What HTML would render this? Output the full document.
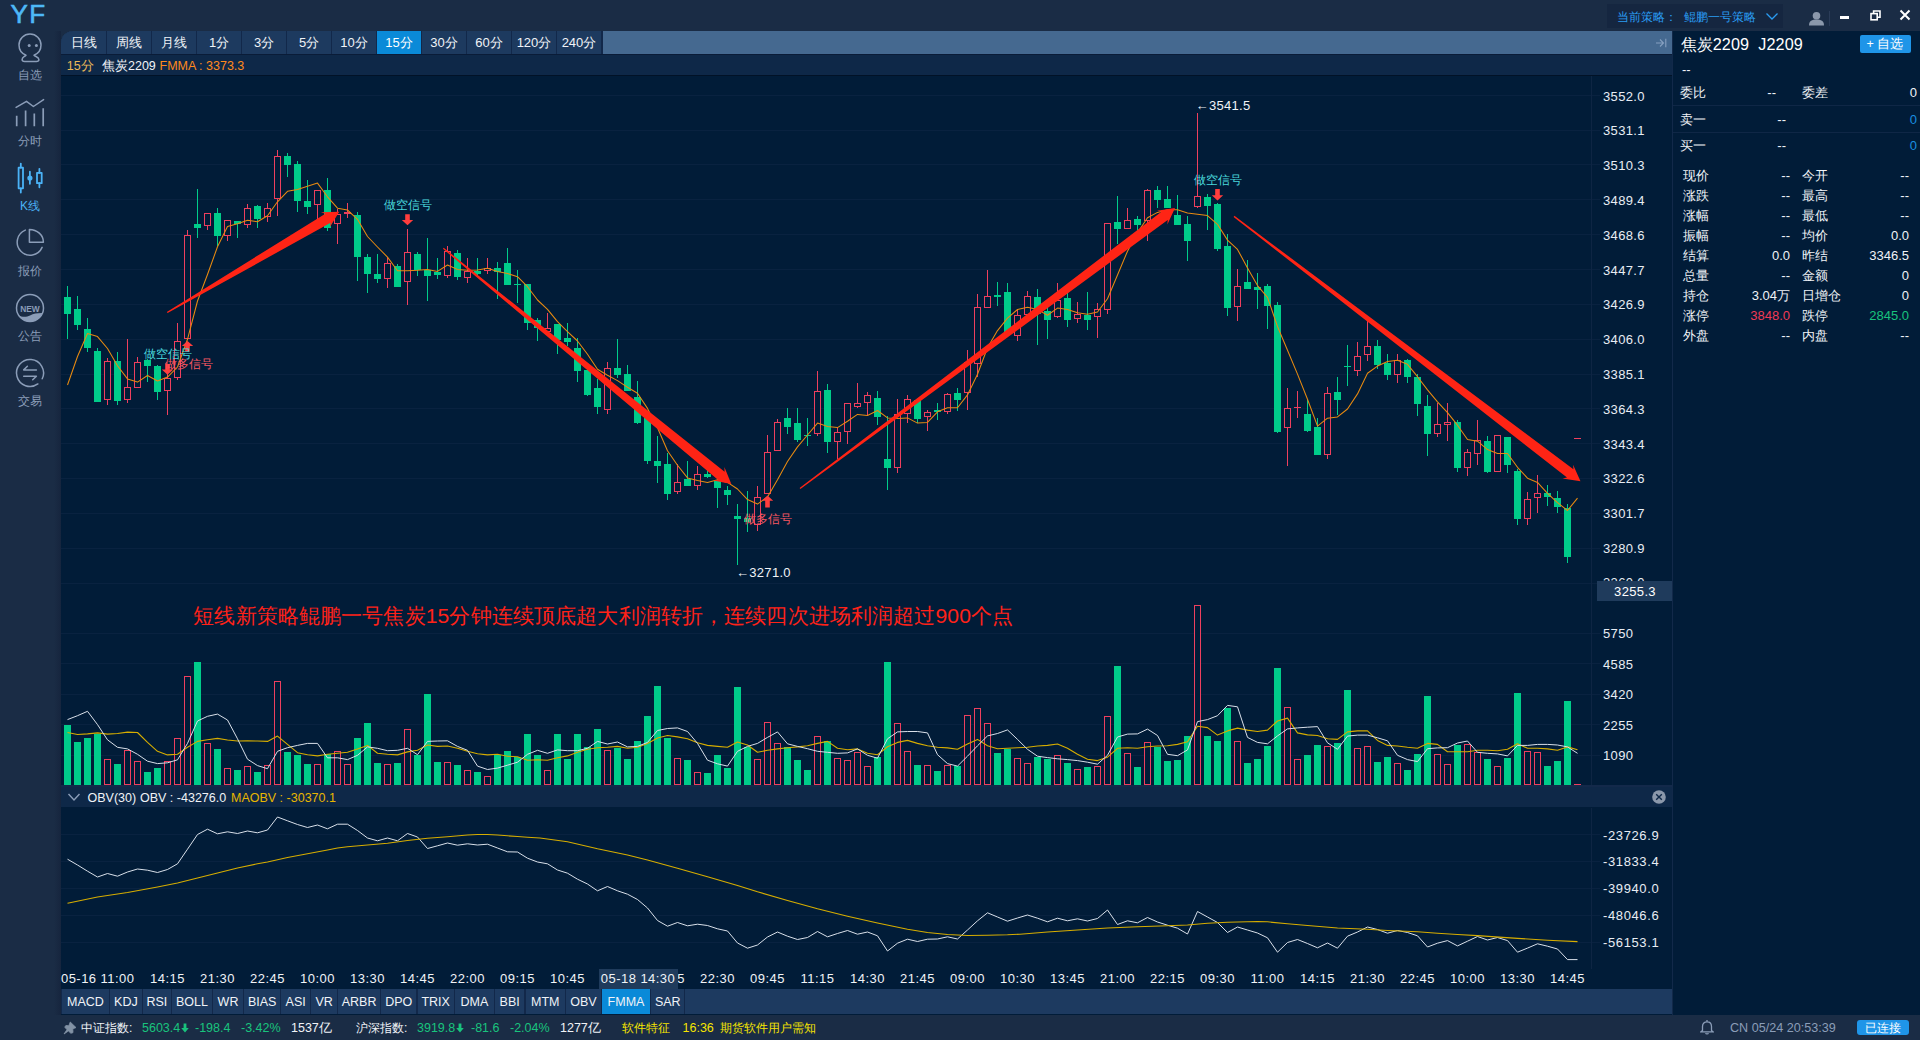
<!DOCTYPE html>
<html lang="zh"><head><meta charset="utf-8"><title>YF</title>
<style>
html,body{margin:0;padding:0}
body{width:1920px;height:1040px;overflow:hidden;background:#1a2c45;position:relative;font-family:"Liberation Sans",sans-serif;color:#fff}
.t{position:absolute;white-space:nowrap;font-family:"Liberation Sans",sans-serif}
.abs{position:absolute}
.tab{float:left;width:44px;height:23px;margin-right:1px;background:#1d3a5f;color:#f0f3f7;font-size:13px;line-height:23px;text-align:center}
.tab.on{background:#0a8ad8;color:#fff}
.btab{position:absolute;top:0;height:24px;padding-top:1px;line-height:24px;color:#f0f3f7;font-size:12.5px;text-align:center}
.q{font-size:13px;line-height:18px;color:#f0f3f7}
</style></head><body>
<!-- chart bg -->
<div class="abs" style="left:61px;top:31px;width:1611px;height:984px;background:#011c38;border-top-left-radius:12px"></div>
<div class="abs" style="left:1672px;top:31px;width:248px;height:984px;background:#011c38;border-left:1px solid #12294a;box-sizing:border-box"></div>
<div class="abs" style="left:54px;top:31px;width:7px;height:984px;background:linear-gradient(90deg,#1a2c45,#16253e)"></div>
<!-- top tabs -->
<div class="abs" style="left:61px;top:31px;width:1611px;height:23px;background:#456990;border-top-left-radius:12px;overflow:hidden"><div style="position:absolute;left:0;top:0;width:542px;height:23px;background:#12284a"></div><div style="position:absolute;left:0;top:0;width:600px"><div class="tab" style="border-top-left-radius:12px;width:45px">日线</div><div class="tab">周线</div><div class="tab">月线</div><div class="tab">1分</div><div class="tab">3分</div><div class="tab">5分</div><div class="tab">10分</div><div class="tab on">15分</div><div class="tab">30分</div><div class="tab">60分</div><div class="tab">120分</div><div class="tab">240分</div></div>
<svg style="position:absolute;left:1593.5px;top:6px" width="12" height="12" viewBox="0 0 12 12" fill="none" stroke="#86a0c0" stroke-width="1.1"><path d="M1,6 H8 M5,2.5 L8.5,6 L5,9.5 M10.8,1.8 V10.2"/></svg></div>
<div class="abs" style="left:61px;top:54px;width:1611px;height:21px;background:#0e2848;border-top:1px solid #0a1c38;box-sizing:border-box"></div>
<div class="abs" style="left:61px;top:75px;width:1611px;height:1px;background:#011227"></div>
<div class="t" style="left:66.7px;top:57.5px;font-size:12.5px;line-height:16px;color:#eab858">15分</div>
<div class="t" style="left:102px;top:57.5px;font-size:12.5px;line-height:16px;color:#f0f3f7">焦炭2209</div>
<div class="t" style="left:159.5px;top:57.5px;font-size:12.5px;line-height:16px;color:#ff8a1c">FMMA : 3373.3</div>
<!-- obv header -->
<div class="abs" style="left:61px;top:785px;width:1611px;height:2px;background:#13294a"></div>
<div class="abs" style="left:61px;top:787px;width:1611px;height:20px;background:#0e2848"></div>
<svg class="abs" style="left:67px;top:792px" width="14" height="10" viewBox="0 0 14 10" fill="none" stroke="#8b9db8" stroke-width="1.4"><path d="M1.5,2 L7,8 L12.5,2"/></svg>
<div class="t" style="left:87.5px;top:789.5px;font-size:12.5px;line-height:16px;color:#f0f3f7">OBV(30)</div>
<div class="t" style="left:140px;top:789.5px;font-size:12.5px;line-height:16px;color:#f0f3f7">OBV : -43276.0</div>
<div class="t" style="left:231px;top:789.5px;font-size:12.5px;line-height:16px;color:#e8b600">MAOBV : -30370.1</div>
<svg class="abs" style="left:1651px;top:789px" width="16" height="16" viewBox="0 0 16 16"><circle cx="8" cy="8" r="6.8" fill="#8b98ab"/><path d="M5.2,5.2 L10.8,10.8 M10.8,5.2 L5.2,10.8" stroke="#0e2848" stroke-width="1.4"/></svg>
<!-- cursor time label bg drawn after texts -->
<svg width="1920" height="1040" viewBox="0 0 1920 1040" style="position:absolute;left:0;top:0"><g shape-rendering="crispEdges"><rect x="61" y="95" width="1539" height="1" fill="#092240"/><rect x="61" y="130" width="1539" height="1" fill="#092240"/><rect x="61" y="164" width="1539" height="1" fill="#092240"/><rect x="61" y="199" width="1539" height="1" fill="#092240"/><rect x="61" y="234" width="1539" height="1" fill="#092240"/><rect x="61" y="269" width="1539" height="1" fill="#092240"/><rect x="61" y="304" width="1539" height="1" fill="#092240"/><rect x="61" y="339" width="1539" height="1" fill="#092240"/><rect x="61" y="374" width="1539" height="1" fill="#092240"/><rect x="61" y="408" width="1539" height="1" fill="#092240"/><rect x="61" y="443" width="1539" height="1" fill="#092240"/><rect x="61" y="478" width="1539" height="1" fill="#092240"/><rect x="61" y="513" width="1539" height="1" fill="#092240"/><rect x="61" y="548" width="1539" height="1" fill="#092240"/><rect x="61" y="583" width="1539" height="1" fill="#092240"/><rect x="61" y="633" width="1539" height="1" fill="#092240"/><rect x="61" y="663" width="1539" height="1" fill="#092240"/><rect x="61" y="694" width="1539" height="1" fill="#092240"/><rect x="61" y="724" width="1539" height="1" fill="#092240"/><rect x="61" y="755" width="1539" height="1" fill="#092240"/><rect x="61" y="834" width="1539" height="1" fill="#092240"/><rect x="61" y="861" width="1539" height="1" fill="#092240"/><rect x="61" y="888" width="1539" height="1" fill="#092240"/><rect x="61" y="915" width="1539" height="1" fill="#092240"/><rect x="61" y="942" width="1539" height="1" fill="#092240"/><rect x="1591" y="76" width="1" height="709" fill="#0e2543"/><rect x="1591" y="808" width="1" height="161" fill="#0e2543"/><rect x="67" y="286" width="1" height="53" fill="#00cc8a"/><rect x="64" y="297" width="7" height="17" fill="#00cc8a"/><rect x="77" y="296" width="1" height="34" fill="#00cc8a"/><rect x="74" y="309" width="7" height="16" fill="#00cc8a"/><rect x="87" y="318" width="1" height="34" fill="#00cc8a"/><rect x="84" y="329" width="7" height="19" fill="#00cc8a"/><rect x="97" y="348" width="1" height="54" fill="#00cc8a"/><rect x="94" y="351" width="7" height="51" fill="#00cc8a"/><rect x="107" y="358" width="1" height="47" fill="#ee3f5e"/><rect x="104" y="361" width="7" height="39" fill="#ee3f5e"/><rect x="105" y="362" width="5" height="37" fill="#011c38"/><rect x="117" y="352" width="1" height="53" fill="#00cc8a"/><rect x="114" y="361" width="7" height="40" fill="#00cc8a"/><rect x="127" y="339" width="1" height="64" fill="#ee3f5e"/><rect x="124" y="387" width="7" height="13" fill="#ee3f5e"/><rect x="125" y="388" width="5" height="11" fill="#011c38"/><rect x="137" y="357" width="1" height="31" fill="#ee3f5e"/><rect x="134" y="362" width="7" height="26" fill="#ee3f5e"/><rect x="135" y="363" width="5" height="24" fill="#011c38"/><rect x="147" y="359" width="1" height="23" fill="#00cc8a"/><rect x="144" y="360" width="7" height="6" fill="#00cc8a"/><rect x="157" y="365" width="1" height="35" fill="#00cc8a"/><rect x="154" y="366" width="7" height="26" fill="#00cc8a"/><rect x="167" y="374" width="1" height="41" fill="#ee3f5e"/><rect x="164" y="378" width="7" height="13" fill="#ee3f5e"/><rect x="165" y="379" width="5" height="11" fill="#011c38"/><rect x="177" y="323" width="1" height="57" fill="#ee3f5e"/><rect x="174" y="341" width="7" height="37" fill="#ee3f5e"/><rect x="175" y="342" width="5" height="35" fill="#011c38"/><rect x="187" y="230" width="1" height="109" fill="#ee3f5e"/><rect x="184" y="235" width="7" height="104" fill="#ee3f5e"/><rect x="185" y="236" width="5" height="102" fill="#011c38"/><rect x="197" y="189" width="1" height="49" fill="#00cc8a"/><rect x="194" y="224" width="7" height="4" fill="#00cc8a"/><rect x="207" y="213" width="1" height="17" fill="#ee3f5e"/><rect x="204" y="213" width="7" height="13" fill="#ee3f5e"/><rect x="205" y="214" width="5" height="11" fill="#011c38"/><rect x="217" y="208" width="1" height="38" fill="#00cc8a"/><rect x="214" y="213" width="7" height="23" fill="#00cc8a"/><rect x="227" y="220" width="1" height="21" fill="#ee3f5e"/><rect x="224" y="220" width="7" height="16" fill="#ee3f5e"/><rect x="225" y="221" width="5" height="14" fill="#011c38"/><rect x="237" y="221" width="1" height="17" fill="#00cc8a"/><rect x="234" y="221" width="7" height="3" fill="#00cc8a"/><rect x="247" y="204" width="1" height="24" fill="#ee3f5e"/><rect x="244" y="208" width="7" height="17" fill="#ee3f5e"/><rect x="245" y="209" width="5" height="15" fill="#011c38"/><rect x="257" y="205" width="1" height="23" fill="#00cc8a"/><rect x="254" y="206" width="7" height="13" fill="#00cc8a"/><rect x="267" y="203" width="1" height="19" fill="#ee3f5e"/><rect x="264" y="208" width="7" height="9" fill="#ee3f5e"/><rect x="265" y="209" width="5" height="7" fill="#011c38"/><rect x="277" y="150" width="1" height="66" fill="#ee3f5e"/><rect x="274" y="156" width="7" height="43" fill="#ee3f5e"/><rect x="275" y="157" width="5" height="41" fill="#011c38"/><rect x="287" y="153" width="1" height="24" fill="#00cc8a"/><rect x="284" y="156" width="7" height="9" fill="#00cc8a"/><rect x="297" y="161" width="1" height="51" fill="#00cc8a"/><rect x="294" y="164" width="7" height="37" fill="#00cc8a"/><rect x="307" y="180" width="1" height="34" fill="#00cc8a"/><rect x="304" y="201" width="7" height="6" fill="#00cc8a"/><rect x="317" y="190" width="1" height="29" fill="#ee3f5e"/><rect x="314" y="190" width="7" height="15" fill="#ee3f5e"/><rect x="315" y="191" width="5" height="13" fill="#011c38"/><rect x="327" y="178" width="1" height="53" fill="#00cc8a"/><rect x="324" y="190" width="7" height="38" fill="#00cc8a"/><rect x="337" y="209" width="1" height="35" fill="#ee3f5e"/><rect x="334" y="214" width="7" height="10" fill="#ee3f5e"/><rect x="335" y="215" width="5" height="8" fill="#011c38"/><rect x="347" y="203" width="1" height="15" fill="#ee3f5e"/><rect x="344" y="212" width="7" height="2" fill="#ee3f5e"/><rect x="357" y="212" width="1" height="69" fill="#00cc8a"/><rect x="354" y="215" width="7" height="42" fill="#00cc8a"/><rect x="367" y="254" width="1" height="39" fill="#00cc8a"/><rect x="364" y="257" width="7" height="17" fill="#00cc8a"/><rect x="377" y="254" width="1" height="29" fill="#00cc8a"/><rect x="374" y="274" width="7" height="5" fill="#00cc8a"/><rect x="387" y="257" width="1" height="31" fill="#ee3f5e"/><rect x="384" y="263" width="7" height="16" fill="#ee3f5e"/><rect x="385" y="264" width="5" height="14" fill="#011c38"/><rect x="397" y="264" width="1" height="23" fill="#00cc8a"/><rect x="394" y="266" width="7" height="21" fill="#00cc8a"/><rect x="407" y="229" width="1" height="76" fill="#ee3f5e"/><rect x="404" y="252" width="7" height="30" fill="#ee3f5e"/><rect x="405" y="253" width="5" height="28" fill="#011c38"/><rect x="417" y="252" width="1" height="24" fill="#00cc8a"/><rect x="414" y="254" width="7" height="16" fill="#00cc8a"/><rect x="427" y="238" width="1" height="63" fill="#00cc8a"/><rect x="424" y="270" width="7" height="6" fill="#00cc8a"/><rect x="437" y="258" width="1" height="21" fill="#00cc8a"/><rect x="434" y="272" width="7" height="3" fill="#00cc8a"/><rect x="447" y="246" width="1" height="32" fill="#ee3f5e"/><rect x="444" y="251" width="7" height="25" fill="#ee3f5e"/><rect x="445" y="252" width="5" height="23" fill="#011c38"/><rect x="457" y="250" width="1" height="30" fill="#00cc8a"/><rect x="454" y="253" width="7" height="24" fill="#00cc8a"/><rect x="467" y="258" width="1" height="25" fill="#ee3f5e"/><rect x="464" y="271" width="7" height="7" fill="#ee3f5e"/><rect x="465" y="272" width="5" height="5" fill="#011c38"/><rect x="477" y="258" width="1" height="17" fill="#00cc8a"/><rect x="474" y="271" width="7" height="3" fill="#00cc8a"/><rect x="487" y="258" width="1" height="16" fill="#ee3f5e"/><rect x="484" y="268" width="7" height="3" fill="#ee3f5e"/><rect x="485" y="269" width="5" height="1" fill="#011c38"/><rect x="497" y="262" width="1" height="37" fill="#00cc8a"/><rect x="494" y="268" width="7" height="4" fill="#00cc8a"/><rect x="507" y="248" width="1" height="37" fill="#00cc8a"/><rect x="504" y="263" width="7" height="22" fill="#00cc8a"/><rect x="517" y="270" width="1" height="33" fill="#00cc8a"/><rect x="514" y="284" width="7" height="1" fill="#00cc8a"/><rect x="527" y="284" width="1" height="46" fill="#00cc8a"/><rect x="524" y="284" width="7" height="39" fill="#00cc8a"/><rect x="537" y="318" width="1" height="23" fill="#00cc8a"/><rect x="534" y="320" width="7" height="8" fill="#00cc8a"/><rect x="547" y="313" width="1" height="19" fill="#ee3f5e"/><rect x="544" y="328" width="7" height="4" fill="#ee3f5e"/><rect x="545" y="329" width="5" height="2" fill="#011c38"/><rect x="557" y="324" width="1" height="30" fill="#00cc8a"/><rect x="554" y="324" width="7" height="16" fill="#00cc8a"/><rect x="567" y="323" width="1" height="23" fill="#00cc8a"/><rect x="564" y="338" width="7" height="4" fill="#00cc8a"/><rect x="577" y="338" width="1" height="44" fill="#00cc8a"/><rect x="574" y="348" width="7" height="23" fill="#00cc8a"/><rect x="587" y="370" width="1" height="26" fill="#00cc8a"/><rect x="584" y="370" width="7" height="25" fill="#00cc8a"/><rect x="597" y="379" width="1" height="35" fill="#00cc8a"/><rect x="594" y="388" width="7" height="19" fill="#00cc8a"/><rect x="607" y="362" width="1" height="52" fill="#ee3f5e"/><rect x="604" y="368" width="7" height="42" fill="#ee3f5e"/><rect x="605" y="369" width="5" height="40" fill="#011c38"/><rect x="617" y="339" width="1" height="39" fill="#00cc8a"/><rect x="614" y="368" width="7" height="7" fill="#00cc8a"/><rect x="627" y="365" width="1" height="26" fill="#00cc8a"/><rect x="624" y="374" width="7" height="17" fill="#00cc8a"/><rect x="637" y="381" width="1" height="43" fill="#00cc8a"/><rect x="634" y="397" width="7" height="26" fill="#00cc8a"/><rect x="647" y="418" width="1" height="46" fill="#00cc8a"/><rect x="644" y="418" width="7" height="43" fill="#00cc8a"/><rect x="657" y="436" width="1" height="47" fill="#00cc8a"/><rect x="654" y="461" width="7" height="5" fill="#00cc8a"/><rect x="667" y="453" width="1" height="47" fill="#00cc8a"/><rect x="664" y="464" width="7" height="30" fill="#00cc8a"/><rect x="677" y="464" width="1" height="30" fill="#ee3f5e"/><rect x="674" y="482" width="7" height="10" fill="#ee3f5e"/><rect x="675" y="483" width="5" height="8" fill="#011c38"/><rect x="687" y="461" width="1" height="25" fill="#00cc8a"/><rect x="684" y="479" width="7" height="7" fill="#00cc8a"/><rect x="697" y="466" width="1" height="24" fill="#ee3f5e"/><rect x="694" y="474" width="7" height="12" fill="#ee3f5e"/><rect x="695" y="475" width="5" height="10" fill="#011c38"/><rect x="707" y="470" width="1" height="8" fill="#00cc8a"/><rect x="704" y="474" width="7" height="3" fill="#00cc8a"/><rect x="717" y="477" width="1" height="31" fill="#00cc8a"/><rect x="714" y="480" width="7" height="8" fill="#00cc8a"/><rect x="727" y="486" width="1" height="19" fill="#00cc8a"/><rect x="724" y="490" width="7" height="5" fill="#00cc8a"/><rect x="737" y="504" width="1" height="61" fill="#00cc8a"/><rect x="734" y="516" width="7" height="3" fill="#00cc8a"/><rect x="747" y="491" width="1" height="41" fill="#00cc8a"/><rect x="744" y="518" width="7" height="4" fill="#00cc8a"/><rect x="757" y="486" width="1" height="45" fill="#ee3f5e"/><rect x="754" y="497" width="7" height="28" fill="#ee3f5e"/><rect x="755" y="498" width="5" height="26" fill="#011c38"/><rect x="767" y="435" width="1" height="59" fill="#ee3f5e"/><rect x="764" y="452" width="7" height="42" fill="#ee3f5e"/><rect x="765" y="453" width="5" height="40" fill="#011c38"/><rect x="777" y="419" width="1" height="32" fill="#ee3f5e"/><rect x="774" y="422" width="7" height="29" fill="#ee3f5e"/><rect x="775" y="423" width="5" height="27" fill="#011c38"/><rect x="787" y="408" width="1" height="26" fill="#00cc8a"/><rect x="784" y="418" width="7" height="9" fill="#00cc8a"/><rect x="797" y="408" width="1" height="34" fill="#00cc8a"/><rect x="794" y="423" width="7" height="17" fill="#00cc8a"/><rect x="807" y="418" width="1" height="28" fill="#00cc8a"/><rect x="804" y="435" width="7" height="1" fill="#00cc8a"/><rect x="817" y="371" width="1" height="65" fill="#ee3f5e"/><rect x="814" y="391" width="7" height="43" fill="#ee3f5e"/><rect x="815" y="392" width="5" height="41" fill="#011c38"/><rect x="827" y="384" width="1" height="69" fill="#00cc8a"/><rect x="824" y="390" width="7" height="52" fill="#00cc8a"/><rect x="837" y="428" width="1" height="31" fill="#ee3f5e"/><rect x="834" y="432" width="7" height="10" fill="#ee3f5e"/><rect x="835" y="433" width="5" height="8" fill="#011c38"/><rect x="847" y="403" width="1" height="41" fill="#ee3f5e"/><rect x="844" y="403" width="7" height="29" fill="#ee3f5e"/><rect x="845" y="404" width="5" height="27" fill="#011c38"/><rect x="857" y="383" width="1" height="25" fill="#ee3f5e"/><rect x="854" y="403" width="7" height="4" fill="#ee3f5e"/><rect x="855" y="404" width="5" height="2" fill="#011c38"/><rect x="867" y="392" width="1" height="23" fill="#ee3f5e"/><rect x="864" y="395" width="7" height="8" fill="#ee3f5e"/><rect x="865" y="396" width="5" height="6" fill="#011c38"/><rect x="877" y="391" width="1" height="34" fill="#00cc8a"/><rect x="874" y="398" width="7" height="19" fill="#00cc8a"/><rect x="887" y="416" width="1" height="74" fill="#00cc8a"/><rect x="884" y="459" width="7" height="9" fill="#00cc8a"/><rect x="897" y="399" width="1" height="74" fill="#ee3f5e"/><rect x="894" y="414" width="7" height="54" fill="#ee3f5e"/><rect x="895" y="415" width="5" height="52" fill="#011c38"/><rect x="907" y="395" width="1" height="28" fill="#ee3f5e"/><rect x="904" y="399" width="7" height="15" fill="#ee3f5e"/><rect x="905" y="400" width="5" height="13" fill="#011c38"/><rect x="917" y="400" width="1" height="23" fill="#00cc8a"/><rect x="914" y="400" width="7" height="19" fill="#00cc8a"/><rect x="927" y="410" width="1" height="21" fill="#ee3f5e"/><rect x="924" y="412" width="7" height="5" fill="#ee3f5e"/><rect x="925" y="413" width="5" height="3" fill="#011c38"/><rect x="937" y="403" width="1" height="17" fill="#00cc8a"/><rect x="934" y="410" width="7" height="2" fill="#00cc8a"/><rect x="947" y="393" width="1" height="21" fill="#ee3f5e"/><rect x="944" y="394" width="7" height="18" fill="#ee3f5e"/><rect x="945" y="395" width="5" height="16" fill="#011c38"/><rect x="957" y="388" width="1" height="23" fill="#00cc8a"/><rect x="954" y="393" width="7" height="7" fill="#00cc8a"/><rect x="967" y="350" width="1" height="60" fill="#ee3f5e"/><rect x="964" y="362" width="7" height="31" fill="#ee3f5e"/><rect x="965" y="363" width="5" height="29" fill="#011c38"/><rect x="977" y="294" width="1" height="83" fill="#ee3f5e"/><rect x="974" y="307" width="7" height="57" fill="#ee3f5e"/><rect x="975" y="308" width="5" height="55" fill="#011c38"/><rect x="987" y="270" width="1" height="38" fill="#ee3f5e"/><rect x="984" y="296" width="7" height="12" fill="#ee3f5e"/><rect x="985" y="297" width="5" height="10" fill="#011c38"/><rect x="997" y="282" width="1" height="24" fill="#00cc8a"/><rect x="994" y="295" width="7" height="2" fill="#00cc8a"/><rect x="1007" y="283" width="1" height="52" fill="#00cc8a"/><rect x="1004" y="292" width="7" height="40" fill="#00cc8a"/><rect x="1017" y="310" width="1" height="31" fill="#ee3f5e"/><rect x="1014" y="315" width="7" height="21" fill="#ee3f5e"/><rect x="1015" y="316" width="5" height="19" fill="#011c38"/><rect x="1027" y="291" width="1" height="24" fill="#ee3f5e"/><rect x="1024" y="296" width="7" height="19" fill="#ee3f5e"/><rect x="1025" y="297" width="5" height="17" fill="#011c38"/><rect x="1037" y="289" width="1" height="56" fill="#00cc8a"/><rect x="1034" y="297" width="7" height="17" fill="#00cc8a"/><rect x="1047" y="307" width="1" height="32" fill="#00cc8a"/><rect x="1044" y="311" width="7" height="9" fill="#00cc8a"/><rect x="1057" y="283" width="1" height="35" fill="#ee3f5e"/><rect x="1054" y="300" width="7" height="17" fill="#ee3f5e"/><rect x="1055" y="301" width="5" height="15" fill="#011c38"/><rect x="1067" y="292" width="1" height="35" fill="#00cc8a"/><rect x="1064" y="298" width="7" height="22" fill="#00cc8a"/><rect x="1077" y="302" width="1" height="21" fill="#ee3f5e"/><rect x="1074" y="314" width="7" height="5" fill="#ee3f5e"/><rect x="1075" y="315" width="5" height="3" fill="#011c38"/><rect x="1087" y="292" width="1" height="38" fill="#00cc8a"/><rect x="1084" y="315" width="7" height="5" fill="#00cc8a"/><rect x="1097" y="303" width="1" height="35" fill="#ee3f5e"/><rect x="1094" y="309" width="7" height="8" fill="#ee3f5e"/><rect x="1095" y="310" width="5" height="6" fill="#011c38"/><rect x="1107" y="223" width="1" height="91" fill="#ee3f5e"/><rect x="1104" y="223" width="7" height="87" fill="#ee3f5e"/><rect x="1105" y="224" width="5" height="85" fill="#011c38"/><rect x="1117" y="196" width="1" height="48" fill="#00cc8a"/><rect x="1114" y="222" width="7" height="7" fill="#00cc8a"/><rect x="1127" y="208" width="1" height="21" fill="#ee3f5e"/><rect x="1124" y="220" width="7" height="9" fill="#ee3f5e"/><rect x="1125" y="221" width="5" height="7" fill="#011c38"/><rect x="1137" y="216" width="1" height="14" fill="#00cc8a"/><rect x="1134" y="219" width="7" height="6" fill="#00cc8a"/><rect x="1147" y="189" width="1" height="52" fill="#ee3f5e"/><rect x="1144" y="190" width="7" height="31" fill="#ee3f5e"/><rect x="1145" y="191" width="5" height="29" fill="#011c38"/><rect x="1157" y="186" width="1" height="22" fill="#00cc8a"/><rect x="1154" y="190" width="7" height="10" fill="#00cc8a"/><rect x="1167" y="186" width="1" height="22" fill="#00cc8a"/><rect x="1164" y="199" width="7" height="9" fill="#00cc8a"/><rect x="1177" y="195" width="1" height="30" fill="#00cc8a"/><rect x="1174" y="215" width="7" height="10" fill="#00cc8a"/><rect x="1187" y="216" width="1" height="45" fill="#00cc8a"/><rect x="1184" y="224" width="7" height="17" fill="#00cc8a"/><rect x="1197" y="113" width="1" height="95" fill="#ee3f5e"/><rect x="1194" y="196" width="7" height="11" fill="#ee3f5e"/><rect x="1195" y="197" width="5" height="9" fill="#011c38"/><rect x="1207" y="194" width="1" height="36" fill="#00cc8a"/><rect x="1204" y="197" width="7" height="9" fill="#00cc8a"/><rect x="1217" y="203" width="1" height="48" fill="#00cc8a"/><rect x="1214" y="204" width="7" height="45" fill="#00cc8a"/><rect x="1227" y="234" width="1" height="82" fill="#00cc8a"/><rect x="1224" y="246" width="7" height="62" fill="#00cc8a"/><rect x="1237" y="269" width="1" height="52" fill="#ee3f5e"/><rect x="1234" y="286" width="7" height="21" fill="#ee3f5e"/><rect x="1235" y="287" width="5" height="19" fill="#011c38"/><rect x="1247" y="260" width="1" height="29" fill="#00cc8a"/><rect x="1244" y="282" width="7" height="7" fill="#00cc8a"/><rect x="1257" y="273" width="1" height="36" fill="#00cc8a"/><rect x="1254" y="287" width="7" height="3" fill="#00cc8a"/><rect x="1267" y="284" width="1" height="45" fill="#00cc8a"/><rect x="1264" y="286" width="7" height="20" fill="#00cc8a"/><rect x="1277" y="302" width="1" height="131" fill="#00cc8a"/><rect x="1274" y="305" width="7" height="127" fill="#00cc8a"/><rect x="1287" y="388" width="1" height="78" fill="#ee3f5e"/><rect x="1284" y="408" width="7" height="20" fill="#ee3f5e"/><rect x="1285" y="409" width="5" height="18" fill="#011c38"/><rect x="1297" y="391" width="1" height="27" fill="#ee3f5e"/><rect x="1294" y="407" width="7" height="1" fill="#ee3f5e"/><rect x="1307" y="399" width="1" height="33" fill="#00cc8a"/><rect x="1304" y="414" width="7" height="17" fill="#00cc8a"/><rect x="1317" y="418" width="1" height="37" fill="#00cc8a"/><rect x="1314" y="427" width="7" height="28" fill="#00cc8a"/><rect x="1327" y="387" width="1" height="72" fill="#ee3f5e"/><rect x="1324" y="393" width="7" height="62" fill="#ee3f5e"/><rect x="1325" y="394" width="5" height="60" fill="#011c38"/><rect x="1337" y="377" width="1" height="38" fill="#00cc8a"/><rect x="1334" y="392" width="7" height="8" fill="#00cc8a"/><rect x="1347" y="345" width="1" height="41" fill="#00cc8a"/><rect x="1344" y="366" width="7" height="1" fill="#00cc8a"/><rect x="1357" y="342" width="1" height="34" fill="#ee3f5e"/><rect x="1354" y="356" width="7" height="15" fill="#ee3f5e"/><rect x="1355" y="357" width="5" height="13" fill="#011c38"/><rect x="1367" y="321" width="1" height="40" fill="#ee3f5e"/><rect x="1364" y="346" width="7" height="9" fill="#ee3f5e"/><rect x="1365" y="347" width="5" height="7" fill="#011c38"/><rect x="1377" y="340" width="1" height="29" fill="#00cc8a"/><rect x="1374" y="346" width="7" height="19" fill="#00cc8a"/><rect x="1387" y="354" width="1" height="26" fill="#00cc8a"/><rect x="1384" y="363" width="7" height="12" fill="#00cc8a"/><rect x="1397" y="354" width="1" height="29" fill="#ee3f5e"/><rect x="1394" y="360" width="7" height="15" fill="#ee3f5e"/><rect x="1395" y="361" width="5" height="13" fill="#011c38"/><rect x="1407" y="359" width="1" height="24" fill="#00cc8a"/><rect x="1404" y="360" width="7" height="17" fill="#00cc8a"/><rect x="1417" y="374" width="1" height="42" fill="#00cc8a"/><rect x="1414" y="377" width="7" height="27" fill="#00cc8a"/><rect x="1427" y="395" width="1" height="61" fill="#00cc8a"/><rect x="1424" y="406" width="7" height="28" fill="#00cc8a"/><rect x="1437" y="403" width="1" height="34" fill="#ee3f5e"/><rect x="1434" y="424" width="7" height="10" fill="#ee3f5e"/><rect x="1435" y="425" width="5" height="8" fill="#011c38"/><rect x="1447" y="403" width="1" height="38" fill="#ee3f5e"/><rect x="1444" y="422" width="7" height="3" fill="#ee3f5e"/><rect x="1445" y="423" width="5" height="1" fill="#011c38"/><rect x="1457" y="420" width="1" height="52" fill="#00cc8a"/><rect x="1454" y="422" width="7" height="46" fill="#00cc8a"/><rect x="1467" y="449" width="1" height="27" fill="#ee3f5e"/><rect x="1464" y="452" width="7" height="16" fill="#ee3f5e"/><rect x="1465" y="453" width="5" height="14" fill="#011c38"/><rect x="1477" y="420" width="1" height="45" fill="#ee3f5e"/><rect x="1474" y="440" width="7" height="14" fill="#ee3f5e"/><rect x="1475" y="441" width="5" height="12" fill="#011c38"/><rect x="1487" y="436" width="1" height="37" fill="#00cc8a"/><rect x="1484" y="441" width="7" height="31" fill="#00cc8a"/><rect x="1497" y="435" width="1" height="37" fill="#ee3f5e"/><rect x="1494" y="435" width="7" height="37" fill="#ee3f5e"/><rect x="1495" y="436" width="5" height="35" fill="#011c38"/><rect x="1507" y="437" width="1" height="36" fill="#00cc8a"/><rect x="1504" y="437" width="7" height="28" fill="#00cc8a"/><rect x="1517" y="469" width="1" height="56" fill="#00cc8a"/><rect x="1514" y="471" width="7" height="48" fill="#00cc8a"/><rect x="1527" y="492" width="1" height="33" fill="#ee3f5e"/><rect x="1524" y="499" width="7" height="20" fill="#ee3f5e"/><rect x="1525" y="500" width="5" height="18" fill="#011c38"/><rect x="1537" y="475" width="1" height="38" fill="#ee3f5e"/><rect x="1534" y="493" width="7" height="5" fill="#ee3f5e"/><rect x="1535" y="494" width="5" height="3" fill="#011c38"/><rect x="1547" y="485" width="1" height="21" fill="#00cc8a"/><rect x="1544" y="493" width="7" height="4" fill="#00cc8a"/><rect x="1557" y="491" width="1" height="22" fill="#00cc8a"/><rect x="1554" y="498" width="7" height="9" fill="#00cc8a"/><rect x="1567" y="504" width="1" height="59" fill="#00cc8a"/><rect x="1564" y="508" width="7" height="49" fill="#00cc8a"/><rect x="1574" y="438" width="7" height="1" fill="#ee3f5e"/><rect x="1574" y="784" width="7" height="1" fill="#ee3f5e"/><rect x="64" y="725" width="7" height="60" fill="#00cc8a"/><rect x="74" y="742" width="7" height="43" fill="#00cc8a"/><rect x="84" y="738" width="7" height="47" fill="#00cc8a"/><rect x="94" y="734" width="7" height="51" fill="#00cc8a"/><rect x="104" y="759" width="7" height="26" fill="#ee3f5e"/><rect x="105" y="760" width="5" height="24" fill="#011c38"/><rect x="114" y="764" width="7" height="21" fill="#00cc8a"/><rect x="124" y="750" width="7" height="35" fill="#ee3f5e"/><rect x="125" y="751" width="5" height="33" fill="#011c38"/><rect x="134" y="761" width="7" height="24" fill="#ee3f5e"/><rect x="135" y="762" width="5" height="22" fill="#011c38"/><rect x="144" y="772" width="7" height="13" fill="#00cc8a"/><rect x="154" y="768" width="7" height="17" fill="#00cc8a"/><rect x="164" y="761" width="7" height="24" fill="#ee3f5e"/><rect x="165" y="762" width="5" height="22" fill="#011c38"/><rect x="174" y="738" width="7" height="47" fill="#ee3f5e"/><rect x="175" y="739" width="5" height="45" fill="#011c38"/><rect x="184" y="676" width="7" height="109" fill="#ee3f5e"/><rect x="185" y="677" width="5" height="107" fill="#011c38"/><rect x="194" y="662" width="7" height="123" fill="#00cc8a"/><rect x="204" y="743" width="7" height="42" fill="#ee3f5e"/><rect x="205" y="744" width="5" height="40" fill="#011c38"/><rect x="214" y="749" width="7" height="36" fill="#00cc8a"/><rect x="224" y="768" width="7" height="17" fill="#ee3f5e"/><rect x="225" y="769" width="5" height="15" fill="#011c38"/><rect x="234" y="770" width="7" height="15" fill="#00cc8a"/><rect x="244" y="766" width="7" height="19" fill="#ee3f5e"/><rect x="245" y="767" width="5" height="17" fill="#011c38"/><rect x="254" y="772" width="7" height="13" fill="#00cc8a"/><rect x="264" y="765" width="7" height="20" fill="#ee3f5e"/><rect x="265" y="766" width="5" height="18" fill="#011c38"/><rect x="274" y="681" width="7" height="104" fill="#ee3f5e"/><rect x="275" y="682" width="5" height="102" fill="#011c38"/><rect x="284" y="752" width="7" height="33" fill="#00cc8a"/><rect x="294" y="755" width="7" height="30" fill="#00cc8a"/><rect x="304" y="764" width="7" height="21" fill="#00cc8a"/><rect x="314" y="764" width="7" height="21" fill="#ee3f5e"/><rect x="315" y="765" width="5" height="19" fill="#011c38"/><rect x="324" y="754" width="7" height="31" fill="#00cc8a"/><rect x="334" y="751" width="7" height="34" fill="#ee3f5e"/><rect x="335" y="752" width="5" height="32" fill="#011c38"/><rect x="344" y="764" width="7" height="21" fill="#ee3f5e"/><rect x="345" y="765" width="5" height="19" fill="#011c38"/><rect x="354" y="738" width="7" height="47" fill="#00cc8a"/><rect x="364" y="723" width="7" height="62" fill="#00cc8a"/><rect x="374" y="763" width="7" height="22" fill="#00cc8a"/><rect x="384" y="764" width="7" height="21" fill="#ee3f5e"/><rect x="385" y="765" width="5" height="19" fill="#011c38"/><rect x="394" y="763" width="7" height="22" fill="#00cc8a"/><rect x="404" y="729" width="7" height="56" fill="#ee3f5e"/><rect x="405" y="730" width="5" height="54" fill="#011c38"/><rect x="414" y="755" width="7" height="30" fill="#00cc8a"/><rect x="424" y="694" width="7" height="91" fill="#00cc8a"/><rect x="434" y="762" width="7" height="23" fill="#00cc8a"/><rect x="444" y="762" width="7" height="23" fill="#ee3f5e"/><rect x="445" y="763" width="5" height="21" fill="#011c38"/><rect x="454" y="765" width="7" height="20" fill="#00cc8a"/><rect x="464" y="770" width="7" height="15" fill="#ee3f5e"/><rect x="465" y="771" width="5" height="13" fill="#011c38"/><rect x="474" y="772" width="7" height="13" fill="#00cc8a"/><rect x="484" y="776" width="7" height="9" fill="#ee3f5e"/><rect x="485" y="777" width="5" height="7" fill="#011c38"/><rect x="494" y="755" width="7" height="30" fill="#00cc8a"/><rect x="504" y="751" width="7" height="34" fill="#00cc8a"/><rect x="514" y="757" width="7" height="28" fill="#00cc8a"/><rect x="524" y="734" width="7" height="51" fill="#00cc8a"/><rect x="534" y="755" width="7" height="30" fill="#00cc8a"/><rect x="544" y="770" width="7" height="15" fill="#ee3f5e"/><rect x="545" y="771" width="5" height="13" fill="#011c38"/><rect x="554" y="734" width="7" height="51" fill="#00cc8a"/><rect x="564" y="759" width="7" height="26" fill="#00cc8a"/><rect x="574" y="734" width="7" height="51" fill="#00cc8a"/><rect x="584" y="747" width="7" height="38" fill="#00cc8a"/><rect x="594" y="729" width="7" height="56" fill="#00cc8a"/><rect x="604" y="750" width="7" height="35" fill="#ee3f5e"/><rect x="605" y="751" width="5" height="33" fill="#011c38"/><rect x="614" y="748" width="7" height="37" fill="#00cc8a"/><rect x="624" y="759" width="7" height="26" fill="#00cc8a"/><rect x="634" y="741" width="7" height="44" fill="#00cc8a"/><rect x="644" y="716" width="7" height="69" fill="#00cc8a"/><rect x="654" y="686" width="7" height="99" fill="#00cc8a"/><rect x="664" y="738" width="7" height="47" fill="#00cc8a"/><rect x="674" y="758" width="7" height="27" fill="#ee3f5e"/><rect x="675" y="759" width="5" height="25" fill="#011c38"/><rect x="684" y="760" width="7" height="25" fill="#00cc8a"/><rect x="694" y="772" width="7" height="13" fill="#ee3f5e"/><rect x="695" y="773" width="5" height="11" fill="#011c38"/><rect x="704" y="773" width="7" height="12" fill="#00cc8a"/><rect x="714" y="755" width="7" height="30" fill="#00cc8a"/><rect x="724" y="768" width="7" height="17" fill="#00cc8a"/><rect x="734" y="687" width="7" height="98" fill="#00cc8a"/><rect x="744" y="747" width="7" height="38" fill="#00cc8a"/><rect x="754" y="759" width="7" height="26" fill="#ee3f5e"/><rect x="755" y="760" width="5" height="24" fill="#011c38"/><rect x="764" y="722" width="7" height="63" fill="#ee3f5e"/><rect x="765" y="723" width="5" height="61" fill="#011c38"/><rect x="774" y="743" width="7" height="42" fill="#ee3f5e"/><rect x="775" y="744" width="5" height="40" fill="#011c38"/><rect x="784" y="747" width="7" height="38" fill="#00cc8a"/><rect x="794" y="760" width="7" height="25" fill="#00cc8a"/><rect x="804" y="770" width="7" height="15" fill="#00cc8a"/><rect x="814" y="736" width="7" height="49" fill="#ee3f5e"/><rect x="815" y="737" width="5" height="47" fill="#011c38"/><rect x="824" y="741" width="7" height="44" fill="#00cc8a"/><rect x="834" y="758" width="7" height="27" fill="#ee3f5e"/><rect x="835" y="759" width="5" height="25" fill="#011c38"/><rect x="844" y="760" width="7" height="25" fill="#ee3f5e"/><rect x="845" y="761" width="5" height="23" fill="#011c38"/><rect x="854" y="752" width="7" height="33" fill="#ee3f5e"/><rect x="855" y="753" width="5" height="31" fill="#011c38"/><rect x="864" y="766" width="7" height="19" fill="#ee3f5e"/><rect x="865" y="767" width="5" height="17" fill="#011c38"/><rect x="874" y="757" width="7" height="28" fill="#00cc8a"/><rect x="884" y="662" width="7" height="123" fill="#00cc8a"/><rect x="894" y="723" width="7" height="62" fill="#ee3f5e"/><rect x="895" y="724" width="5" height="60" fill="#011c38"/><rect x="904" y="751" width="7" height="34" fill="#ee3f5e"/><rect x="905" y="752" width="5" height="32" fill="#011c38"/><rect x="914" y="765" width="7" height="20" fill="#00cc8a"/><rect x="924" y="765" width="7" height="20" fill="#ee3f5e"/><rect x="925" y="766" width="5" height="18" fill="#011c38"/><rect x="934" y="771" width="7" height="14" fill="#00cc8a"/><rect x="944" y="765" width="7" height="20" fill="#ee3f5e"/><rect x="945" y="766" width="5" height="18" fill="#011c38"/><rect x="954" y="766" width="7" height="19" fill="#00cc8a"/><rect x="964" y="715" width="7" height="70" fill="#ee3f5e"/><rect x="965" y="716" width="5" height="68" fill="#011c38"/><rect x="974" y="708" width="7" height="77" fill="#ee3f5e"/><rect x="975" y="709" width="5" height="75" fill="#011c38"/><rect x="984" y="723" width="7" height="62" fill="#ee3f5e"/><rect x="985" y="724" width="5" height="60" fill="#011c38"/><rect x="994" y="753" width="7" height="32" fill="#00cc8a"/><rect x="1004" y="749" width="7" height="36" fill="#00cc8a"/><rect x="1014" y="758" width="7" height="27" fill="#ee3f5e"/><rect x="1015" y="759" width="5" height="25" fill="#011c38"/><rect x="1024" y="763" width="7" height="22" fill="#ee3f5e"/><rect x="1025" y="764" width="5" height="20" fill="#011c38"/><rect x="1034" y="757" width="7" height="28" fill="#00cc8a"/><rect x="1044" y="759" width="7" height="26" fill="#00cc8a"/><rect x="1054" y="755" width="7" height="30" fill="#ee3f5e"/><rect x="1055" y="756" width="5" height="28" fill="#011c38"/><rect x="1064" y="763" width="7" height="22" fill="#00cc8a"/><rect x="1074" y="769" width="7" height="16" fill="#ee3f5e"/><rect x="1075" y="770" width="5" height="14" fill="#011c38"/><rect x="1084" y="767" width="7" height="18" fill="#00cc8a"/><rect x="1094" y="766" width="7" height="19" fill="#ee3f5e"/><rect x="1095" y="767" width="5" height="17" fill="#011c38"/><rect x="1104" y="716" width="7" height="69" fill="#ee3f5e"/><rect x="1105" y="717" width="5" height="67" fill="#011c38"/><rect x="1114" y="666" width="7" height="119" fill="#00cc8a"/><rect x="1124" y="753" width="7" height="32" fill="#ee3f5e"/><rect x="1125" y="754" width="5" height="30" fill="#011c38"/><rect x="1134" y="767" width="7" height="18" fill="#00cc8a"/><rect x="1144" y="742" width="7" height="43" fill="#ee3f5e"/><rect x="1145" y="743" width="5" height="41" fill="#011c38"/><rect x="1154" y="747" width="7" height="38" fill="#00cc8a"/><rect x="1164" y="761" width="7" height="24" fill="#00cc8a"/><rect x="1174" y="760" width="7" height="25" fill="#00cc8a"/><rect x="1184" y="736" width="7" height="49" fill="#00cc8a"/><rect x="1194" y="605" width="7" height="180" fill="#ee3f5e"/><rect x="1195" y="606" width="5" height="178" fill="#011c38"/><rect x="1204" y="736" width="7" height="49" fill="#00cc8a"/><rect x="1214" y="741" width="7" height="44" fill="#00cc8a"/><rect x="1224" y="708" width="7" height="77" fill="#00cc8a"/><rect x="1234" y="741" width="7" height="44" fill="#ee3f5e"/><rect x="1235" y="742" width="5" height="42" fill="#011c38"/><rect x="1244" y="763" width="7" height="22" fill="#00cc8a"/><rect x="1254" y="759" width="7" height="26" fill="#00cc8a"/><rect x="1264" y="746" width="7" height="39" fill="#00cc8a"/><rect x="1274" y="668" width="7" height="117" fill="#00cc8a"/><rect x="1284" y="707" width="7" height="78" fill="#ee3f5e"/><rect x="1285" y="708" width="5" height="76" fill="#011c38"/><rect x="1294" y="759" width="7" height="26" fill="#ee3f5e"/><rect x="1295" y="760" width="5" height="24" fill="#011c38"/><rect x="1304" y="755" width="7" height="30" fill="#00cc8a"/><rect x="1314" y="745" width="7" height="40" fill="#00cc8a"/><rect x="1324" y="746" width="7" height="39" fill="#ee3f5e"/><rect x="1325" y="747" width="5" height="37" fill="#011c38"/><rect x="1334" y="743" width="7" height="42" fill="#00cc8a"/><rect x="1344" y="690" width="7" height="95" fill="#00cc8a"/><rect x="1354" y="748" width="7" height="37" fill="#ee3f5e"/><rect x="1355" y="749" width="5" height="35" fill="#011c38"/><rect x="1364" y="746" width="7" height="39" fill="#ee3f5e"/><rect x="1365" y="747" width="5" height="37" fill="#011c38"/><rect x="1374" y="762" width="7" height="23" fill="#00cc8a"/><rect x="1384" y="757" width="7" height="28" fill="#00cc8a"/><rect x="1394" y="763" width="7" height="22" fill="#ee3f5e"/><rect x="1395" y="764" width="5" height="20" fill="#011c38"/><rect x="1404" y="770" width="7" height="15" fill="#00cc8a"/><rect x="1414" y="754" width="7" height="31" fill="#00cc8a"/><rect x="1424" y="696" width="7" height="89" fill="#00cc8a"/><rect x="1434" y="754" width="7" height="31" fill="#ee3f5e"/><rect x="1435" y="755" width="5" height="29" fill="#011c38"/><rect x="1444" y="764" width="7" height="21" fill="#ee3f5e"/><rect x="1445" y="765" width="5" height="19" fill="#011c38"/><rect x="1454" y="745" width="7" height="40" fill="#00cc8a"/><rect x="1464" y="744" width="7" height="41" fill="#ee3f5e"/><rect x="1465" y="745" width="5" height="39" fill="#011c38"/><rect x="1474" y="752" width="7" height="33" fill="#ee3f5e"/><rect x="1475" y="753" width="5" height="31" fill="#011c38"/><rect x="1484" y="759" width="7" height="26" fill="#00cc8a"/><rect x="1494" y="766" width="7" height="19" fill="#ee3f5e"/><rect x="1495" y="767" width="5" height="17" fill="#011c38"/><rect x="1504" y="758" width="7" height="27" fill="#00cc8a"/><rect x="1514" y="693" width="7" height="92" fill="#00cc8a"/><rect x="1524" y="751" width="7" height="34" fill="#ee3f5e"/><rect x="1525" y="752" width="5" height="32" fill="#011c38"/><rect x="1534" y="752" width="7" height="33" fill="#ee3f5e"/><rect x="1535" y="753" width="5" height="31" fill="#011c38"/><rect x="1544" y="766" width="7" height="19" fill="#00cc8a"/><rect x="1554" y="761" width="7" height="24" fill="#00cc8a"/><rect x="1564" y="701" width="7" height="84" fill="#00cc8a"/></g><polyline points="67.5,732.5 77.5,734.5 87.5,733.9 97.5,732.9 107.5,734.1 117.5,733.5 127.5,732.1 137.5,732.5 147.5,742.4 157.5,751.3 167.5,754.9 177.5,754.3 187.5,747.3 197.5,741.4 207.5,739.8 217.5,738.4 227.5,740.0 237.5,741.0 247.5,740.8 257.5,741.0 267.5,741.4 277.5,736.1 287.5,744.4 297.5,752.7 307.5,754.7 317.5,755.9 327.5,754.3 337.5,753.3 347.5,752.3 357.5,748.9 367.5,745.4 377.5,753.3 387.5,754.3 397.5,754.9 407.5,751.9 417.5,750.3 427.5,745.0 437.5,746.4 447.5,746.0 457.5,748.3 467.5,751.3 477.5,753.7 487.5,754.9 497.5,754.3 507.5,756.2 517.5,756.8 527.5,760.2 537.5,759.8 547.5,760.2 557.5,757.8 567.5,755.9 577.5,752.3 587.5,749.3 597.5,747.7 607.5,747.3 617.5,746.4 627.5,748.3 637.5,747.3 647.5,743.4 657.5,738.0 667.5,735.5 677.5,736.9 687.5,738.8 697.5,742.8 707.5,745.4 717.5,746.4 727.5,747.3 737.5,742.0 747.5,745.0 757.5,752.3 767.5,750.3 777.5,748.9 787.5,747.7 797.5,746.9 807.5,745.8 817.5,743.4 827.5,741.4 837.5,748.3 847.5,749.7 857.5,748.9 867.5,753.3 877.5,754.7 887.5,746.7 897.5,742.4 907.5,740.4 917.5,743.4 927.5,745.8 937.5,747.3 947.5,747.9 957.5,749.3 967.5,744.0 977.5,739.4 987.5,745.8 997.5,748.7 1007.5,748.3 1017.5,747.7 1027.5,747.3 1037.5,746.0 1047.5,745.4 1057.5,744.0 1067.5,748.3 1077.5,754.3 1087.5,759.2 1097.5,760.6 1107.5,757.2 1117.5,748.3 1127.5,747.7 1137.5,748.3 1147.5,746.7 1157.5,746.0 1167.5,745.8 1177.5,744.4 1187.5,741.8 1197.5,726.2 1207.5,727.6 1217.5,735.1 1227.5,730.9 1237.5,728.1 1247.5,730.1 1257.5,731.5 1267.5,730.1 1277.5,721.0 1287.5,718.1 1297.5,732.9 1307.5,734.9 1317.5,735.5 1327.5,738.8 1337.5,739.4 1347.5,731.9 1357.5,730.9 1367.5,730.9 1377.5,740.4 1387.5,745.4 1397.5,746.0 1407.5,747.3 1417.5,748.3 1427.5,743.4 1437.5,744.4 1447.5,751.7 1457.5,751.7 1467.5,751.7 1477.5,750.3 1487.5,750.3 1497.5,750.7 1507.5,749.3 1517.5,743.8 1527.5,748.3 1537.5,748.3 1547.5,748.9 1557.5,750.3 1567.5,746.9 1577.5,749.7" fill="none" stroke="#d6ad00" stroke-width="1.1" stroke-linejoin="round"/><polyline points="67.5,719.6 77.5,715.7 87.5,711.3 97.5,724.6 107.5,739.8 117.5,747.3 127.5,748.9 137.5,754.3 147.5,761.2 157.5,763.6 167.5,762.8 177.5,759.8 187.5,743.4 197.5,721.0 207.5,716.3 217.5,714.1 227.5,720.0 237.5,738.8 247.5,759.2 257.5,765.6 267.5,768.7 277.5,751.3 287.5,747.7 297.5,745.4 307.5,743.4 317.5,743.4 327.5,757.8 337.5,757.8 347.5,759.6 357.5,755.3 367.5,746.9 377.5,748.3 387.5,750.7 397.5,750.3 407.5,748.3 417.5,754.7 427.5,741.4 437.5,741.0 447.5,740.8 457.5,746.4 467.5,750.3 477.5,766.1 487.5,769.5 497.5,768.1 507.5,765.2 517.5,762.2 527.5,754.3 537.5,750.3 547.5,753.3 557.5,749.9 567.5,750.7 577.5,750.7 587.5,748.3 597.5,741.4 607.5,744.0 617.5,742.0 627.5,746.9 637.5,746.4 647.5,742.4 657.5,730.5 667.5,728.5 677.5,727.9 687.5,731.5 697.5,743.4 707.5,760.2 717.5,763.8 727.5,766.1 737.5,751.3 747.5,746.4 757.5,743.4 767.5,737.4 777.5,731.9 787.5,743.8 797.5,746.4 807.5,748.7 817.5,751.3 827.5,752.3 837.5,753.3 847.5,752.9 857.5,748.9 867.5,755.3 877.5,758.2 887.5,738.8 897.5,731.9 907.5,731.5 917.5,731.5 927.5,732.9 937.5,754.7 947.5,763.6 957.5,766.1 967.5,756.2 977.5,745.8 987.5,735.9 997.5,733.5 1007.5,729.9 1017.5,739.4 1027.5,749.3 1037.5,756.2 1047.5,757.6 1057.5,758.8 1067.5,759.6 1077.5,760.6 1087.5,762.2 1097.5,764.2 1107.5,755.3 1117.5,737.0 1127.5,734.1 1137.5,733.9 1147.5,729.1 1157.5,735.5 1167.5,754.3 1177.5,755.7 1187.5,749.9 1197.5,721.6 1207.5,719.6 1217.5,715.7 1227.5,705.4 1237.5,706.8 1247.5,737.4 1257.5,742.4 1267.5,743.8 1277.5,735.9 1287.5,728.9 1297.5,727.9 1307.5,727.2 1317.5,726.6 1327.5,742.8 1337.5,749.3 1347.5,736.1 1357.5,735.1 1367.5,735.1 1377.5,737.8 1387.5,740.8 1397.5,755.3 1407.5,759.6 1417.5,761.6 1427.5,748.7 1437.5,747.9 1447.5,747.7 1457.5,743.0 1467.5,741.0 1477.5,752.3 1487.5,753.3 1497.5,753.9 1507.5,755.9 1517.5,745.4 1527.5,745.4 1537.5,744.4 1547.5,744.4 1557.5,745.0 1567.5,746.9 1577.5,753.3" fill="none" stroke="#d9e0ea" stroke-width="1.0" stroke-linejoin="round"/><polyline points="67.5,859.2 77.5,865.0 87.5,871.2 97.5,877.0 107.5,873.5 117.5,876.2 127.5,872.0 137.5,869.0 147.5,870.2 157.5,872.5 167.5,869.5 177.5,863.8 187.5,849.2 197.5,834.5 207.5,829.2 217.5,833.8 227.5,831.8 237.5,833.5 247.5,831.0 257.5,832.8 267.5,830.0 277.5,817.0 287.5,820.8 297.5,824.5 307.5,827.5 317.5,825.0 327.5,828.8 337.5,824.2 347.5,824.2 357.5,830.5 367.5,838.0 377.5,840.8 387.5,838.0 397.5,840.8 407.5,833.5 417.5,837.0 427.5,848.5 437.5,845.8 447.5,843.0 457.5,845.2 467.5,843.8 477.5,845.0 487.5,844.2 497.5,848.0 507.5,851.8 517.5,852.0 527.5,858.2 537.5,862.0 547.5,863.8 557.5,870.0 567.5,873.2 577.5,879.2 587.5,884.0 597.5,890.8 607.5,886.5 617.5,890.8 627.5,894.2 637.5,899.5 647.5,908.0 657.5,920.5 667.5,926.2 677.5,922.5 687.5,925.8 697.5,924.2 707.5,925.5 717.5,928.8 727.5,931.0 737.5,943.0 747.5,948.2 757.5,945.0 767.5,937.0 777.5,932.0 787.5,936.2 797.5,939.5 807.5,937.5 817.5,931.5 827.5,936.8 837.5,933.5 847.5,930.5 857.5,934.2 867.5,932.0 877.5,935.8 887.5,951.0 897.5,943.2 907.5,939.2 917.5,941.5 927.5,939.2 937.5,939.0 947.5,936.8 957.5,939.0 967.5,930.0 977.5,920.8 987.5,912.8 997.5,917.0 1007.5,921.2 1017.5,918.0 1027.5,915.0 1037.5,918.2 1047.5,921.8 1057.5,918.2 1067.5,920.8 1077.5,918.8 1087.5,921.0 1097.5,918.5 1107.5,910.0 1117.5,924.5 1127.5,920.8 1137.5,922.8 1147.5,917.5 1157.5,922.0 1167.5,925.2 1177.5,928.2 1187.5,934.0 1197.5,911.5 1207.5,917.0 1217.5,922.5 1227.5,932.5 1237.5,927.0 1247.5,930.0 1257.5,933.0 1267.5,937.8 1277.5,952.2 1287.5,942.5 1297.5,939.5 1307.5,943.5 1317.5,947.8 1327.5,943.0 1337.5,948.2 1347.5,936.2 1357.5,932.0 1367.5,927.0 1377.5,929.5 1387.5,933.2 1397.5,930.5 1407.5,932.5 1417.5,935.8 1427.5,947.0 1437.5,943.2 1447.5,940.6 1457.5,945.9 1467.5,941.2 1477.5,936.5 1487.5,940.0 1497.5,937.5 1507.5,940.6 1517.5,952.2 1527.5,948.1 1537.5,943.8 1547.5,946.2 1557.5,949.0 1567.5,959.6 1577.5,959.6" fill="none" stroke="#d9e0ea" stroke-width="1.0" stroke-linejoin="round"/><polyline points="67.5,903.2 97.5,897.0 127.5,892.5 157.5,887.0 177.5,883.0 197.5,878.0 217.5,873.0 237.5,868.0 257.5,863.8 267.5,862.0 287.5,857.5 307.5,853.8 327.5,850.0 337.5,848.0 347.5,846.8 367.5,845.0 387.5,843.2 407.5,840.5 427.5,838.2 447.5,836.8 467.5,835.0 477.5,834.5 487.5,834.5 497.5,835.0 507.5,835.8 517.5,836.5 527.5,837.2 540.0,838.0 567.5,841.8 597.5,848.8 627.5,855.0 647.5,860.0 677.5,868.2 707.5,876.8 737.5,885.5 757.5,891.8 787.5,900.5 817.5,908.8 847.5,916.2 877.5,923.0 907.5,929.2 927.5,932.5 947.5,934.5 967.5,935.5 987.5,935.2 1007.5,934.8 1020.0,934.2 1047.5,932.0 1077.5,930.0 1107.5,928.0 1137.5,926.8 1167.5,925.8 1187.5,925.0 1207.5,923.2 1227.5,922.2 1247.5,921.8 1257.5,921.5 1267.5,921.8 1287.5,923.8 1307.5,925.5 1337.5,928.0 1367.5,929.2 1387.5,930.5 1417.5,931.8 1437.5,933.2 1457.5,934.5 1477.5,935.6 1517.5,938.4 1547.5,940.2 1577.5,941.6" fill="none" stroke="#d6ad00" stroke-width="1.15" stroke-linejoin="round"/><polyline points="67.5,385.0 77.5,356.5 87.5,333.5 97.5,336.6 107.5,348.5 117.5,365.7 127.5,378.9 137.5,382.1 147.5,375.5 157.5,381.0 167.5,377.1 177.5,367.0 187.5,339.3 197.5,301.0 207.5,274.5 217.5,246.8 227.5,226.4 237.5,223.8 247.5,220.3 257.5,221.7 267.5,215.8 277.5,201.8 287.5,191.3 297.5,189.4 307.5,186.3 317.5,183.1 327.5,196.8 337.5,208.2 347.5,210.0 357.5,219.3 367.5,236.5 377.5,247.0 387.5,257.1 397.5,270.8 407.5,270.8 417.5,270.3 427.5,269.5 437.5,271.4 447.5,265.0 457.5,269.5 467.5,270.3 477.5,270.0 487.5,268.2 497.5,271.4 507.5,273.5 517.5,276.7 527.5,286.7 537.5,300.0 547.5,309.3 557.5,321.7 567.5,331.7 577.5,341.0 587.5,354.2 597.5,369.3 607.5,375.3 617.5,380.6 627.5,387.2 637.5,393.3 647.5,408.4 657.5,427.7 667.5,450.7 677.5,465.2 687.5,477.9 697.5,480.5 707.5,482.4 717.5,479.7 727.5,482.4 737.5,489.0 747.5,499.6 757.5,504.1 767.5,496.9 777.5,479.7 787.5,461.5 797.5,446.9 807.5,435.0 817.5,423.1 827.5,426.6 837.5,427.6 847.5,421.3 857.5,414.4 867.5,415.5 877.5,410.5 887.5,417.9 897.5,418.6 907.5,417.9 917.5,423.1 927.5,422.4 937.5,411.8 947.5,407.8 957.5,407.8 967.5,394.9 977.5,374.2 987.5,347.8 997.5,330.6 1007.5,318.2 1017.5,309.5 1027.5,307.3 1037.5,309.4 1047.5,315.2 1057.5,308.1 1067.5,309.4 1077.5,312.8 1087.5,314.2 1097.5,312.0 1107.5,298.8 1117.5,275.0 1127.5,251.2 1137.5,232.7 1147.5,217.7 1157.5,212.4 1167.5,209.7 1177.5,209.7 1187.5,212.9 1197.5,214.2 1207.5,215.6 1217.5,224.3 1227.5,240.1 1237.5,249.4 1247.5,267.9 1257.5,285.6 1267.5,297.4 1277.5,326.5 1287.5,350.3 1297.5,374.1 1307.5,399.2 1317.5,426.1 1327.5,418.2 1337.5,416.9 1347.5,409.0 1357.5,393.9 1367.5,373.3 1377.5,366.1 1387.5,361.4 1397.5,360.3 1407.5,364.3 1417.5,376.7 1427.5,389.9 1437.5,401.8 1447.5,412.6 1457.5,425.2 1467.5,439.5 1477.5,441.2 1487.5,449.6 1497.5,453.5 1507.5,453.5 1517.5,467.3 1527.5,478.2 1537.5,482.4 1547.5,493.4 1557.5,502.6 1567.5,510.5 1577.5,498.1" fill="none" stroke="#e88a10" stroke-width="1.05" stroke-linejoin="round"/><polygon points="167.6,313.1 330.6,222.8 329.8,227.3 339.2,211.7 321.0,212.3 325.3,213.7 166.8,311.9" fill="#ff2415"/><polygon points="442.9,248.8 717.9,479.8 713.4,480.6 731.3,484.0 724.4,467.1 724.6,471.7 443.7,247.8" fill="#ff2415"/><polygon points="800.4,489.1 1167.7,220.1 1167.4,224.6 1175.0,208.1 1157.0,210.7 1161.4,211.7 799.6,487.9" fill="#ff2415"/><polygon points="1233.6,217.0 1567.0,477.6 1562.5,478.5 1580.5,481.3 1573.1,464.7 1573.4,469.2 1234.4,215.8" fill="#ff2415"/><polygon points="405.2,214.2 409.8,214.2 409.8,220.10000000000002 413.2,220.10000000000002 407.5,225.3 401.8,220.10000000000002 405.2,220.10000000000002" fill="#ff3d3d"/><polygon points="1215.2,189 1219.8,189 1219.8,195.3 1223.2,195.3 1217.5,200.5 1211.8,195.3 1215.2,195.3" fill="#ff3d3d"/><polygon points="165.2,364 169.8,364 169.8,369.6 173.2,369.6 167.5,374.8 161.8,369.6 165.2,369.6" fill="#ff3d3d"/><polygon points="187.5,340.9 193.2,346.09999999999997 189.8,346.09999999999997 189.8,351.7 185.2,351.7 185.2,346.09999999999997 181.8,346.09999999999997" fill="#ff3d3d"/><polygon points="767.5,495.6 773.2,500.8 769.8,500.8 769.8,507.5 765.2,507.5 765.2,500.8 761.8,500.8" fill="#ff3d3d"/></svg>
<div class="t" style="top:89.00px;font-size:13px;line-height:16px;color:#e8edf4;left:1603.00px;letter-spacing:0.35px;">3552.0</div>
<div class="t" style="top:123.00px;font-size:13px;line-height:16px;color:#e8edf4;left:1603.00px;letter-spacing:0.35px;">3531.1</div>
<div class="t" style="top:158.00px;font-size:13px;line-height:16px;color:#e8edf4;left:1603.00px;letter-spacing:0.35px;">3510.3</div>
<div class="t" style="top:193.00px;font-size:13px;line-height:16px;color:#e8edf4;left:1603.00px;letter-spacing:0.35px;">3489.4</div>
<div class="t" style="top:228.00px;font-size:13px;line-height:16px;color:#e8edf4;left:1603.00px;letter-spacing:0.35px;">3468.6</div>
<div class="t" style="top:263.00px;font-size:13px;line-height:16px;color:#e8edf4;left:1603.00px;letter-spacing:0.35px;">3447.7</div>
<div class="t" style="top:297.00px;font-size:13px;line-height:16px;color:#e8edf4;left:1603.00px;letter-spacing:0.35px;">3426.9</div>
<div class="t" style="top:332.00px;font-size:13px;line-height:16px;color:#e8edf4;left:1603.00px;letter-spacing:0.35px;">3406.0</div>
<div class="t" style="top:367.00px;font-size:13px;line-height:16px;color:#e8edf4;left:1603.00px;letter-spacing:0.35px;">3385.1</div>
<div class="t" style="top:402.00px;font-size:13px;line-height:16px;color:#e8edf4;left:1603.00px;letter-spacing:0.35px;">3364.3</div>
<div class="t" style="top:437.00px;font-size:13px;line-height:16px;color:#e8edf4;left:1603.00px;letter-spacing:0.35px;">3343.4</div>
<div class="t" style="top:471.00px;font-size:13px;line-height:16px;color:#e8edf4;left:1603.00px;letter-spacing:0.35px;">3322.6</div>
<div class="t" style="top:506.00px;font-size:13px;line-height:16px;color:#e8edf4;left:1603.00px;letter-spacing:0.35px;">3301.7</div>
<div class="t" style="top:541.00px;font-size:13px;line-height:16px;color:#e8edf4;left:1603.00px;letter-spacing:0.35px;">3280.9</div>
<div class="t" style="top:575.00px;font-size:13px;line-height:16px;color:#e8edf4;left:1603.00px;letter-spacing:0.35px;">3260.0</div>
<div class="t" style="top:626.00px;font-size:13px;line-height:16px;color:#e8edf4;left:1603.00px;letter-spacing:0.35px;">5750</div>
<div class="t" style="top:657.00px;font-size:13px;line-height:16px;color:#e8edf4;left:1603.00px;letter-spacing:0.35px;">4585</div>
<div class="t" style="top:687.00px;font-size:13px;line-height:16px;color:#e8edf4;left:1603.00px;letter-spacing:0.35px;">3420</div>
<div class="t" style="top:718.00px;font-size:13px;line-height:16px;color:#e8edf4;left:1603.00px;letter-spacing:0.35px;">2255</div>
<div class="t" style="top:748.00px;font-size:13px;line-height:16px;color:#e8edf4;left:1603.00px;letter-spacing:0.35px;">1090</div>
<div class="t" style="top:828.00px;font-size:13px;line-height:16px;color:#e8edf4;left:1603.00px;letter-spacing:0.62px;">-23726.9</div>
<div class="t" style="top:854.00px;font-size:13px;line-height:16px;color:#e8edf4;left:1603.00px;letter-spacing:0.62px;">-31833.4</div>
<div class="t" style="top:881.00px;font-size:13px;line-height:16px;color:#e8edf4;left:1603.00px;letter-spacing:0.62px;">-39940.0</div>
<div class="t" style="top:908.00px;font-size:13px;line-height:16px;color:#e8edf4;left:1603.00px;letter-spacing:0.62px;">-48046.6</div>
<div class="t" style="top:935.00px;font-size:13px;line-height:16px;color:#e8edf4;left:1603.00px;letter-spacing:0.62px;">-56153.1</div>
<div class="t" style="top:196.70px;font-size:12px;line-height:16px;color:#4ad8dc;left:384.00px;">做空信号</div>
<div class="t" style="top:171.90px;font-size:12px;line-height:16px;color:#4ad8dc;left:1194.00px;">做空信号</div>
<div class="t" style="top:345.50px;font-size:12px;line-height:16px;color:#4ad8dc;left:144.00px;">做空信号</div>
<div class="t" style="top:355.80px;font-size:12px;line-height:16px;color:#fa5862;left:164.60px;">做多信号</div>
<div class="t" style="top:510.70px;font-size:12px;line-height:16px;color:#fa5862;left:744.40px;">做多信号</div>
<div class="t" style="top:97.90px;font-size:13px;line-height:16px;color:#f0f3f7;left:1195.60px;letter-spacing:0.3px;">←3541.5</div>
<div class="t" style="top:564.50px;font-size:13px;line-height:16px;color:#f0f3f7;left:736.00px;letter-spacing:0.3px;">←3271.0</div>
<div class="t" style="top:603.00px;font-size:21.13px;line-height:26px;color:#ff2218;left:193.30px;letter-spacing:0.13px;">短线新策略鲲鹏一号焦炭15分钟连续顶底超大利润转折，连续四次进场利润超过900个点</div>
<div class="abs" style="left:1597px;top:581px;width:75px;height:20px;background:#1f3b5c"></div>
<div class="t" style="top:583.60px;font-size:13px;line-height:16px;color:#fff;left:1635.00px;transform:translateX(-50%);letter-spacing:0.35px;">3255.3</div>
<div class="t" style="top:970.50px;font-size:13px;line-height:16px;color:#f0f3f7;left:61.00px;letter-spacing:0.45px;">05-16 11:00</div>
<div class="t" style="top:970.50px;font-size:13px;line-height:16px;color:#f0f3f7;left:167.50px;transform:translateX(-50%);letter-spacing:0.45px;">14:15</div>
<div class="t" style="top:970.50px;font-size:13px;line-height:16px;color:#f0f3f7;left:217.50px;transform:translateX(-50%);letter-spacing:0.45px;">21:30</div>
<div class="t" style="top:970.50px;font-size:13px;line-height:16px;color:#f0f3f7;left:267.50px;transform:translateX(-50%);letter-spacing:0.45px;">22:45</div>
<div class="t" style="top:970.50px;font-size:13px;line-height:16px;color:#f0f3f7;left:317.50px;transform:translateX(-50%);letter-spacing:0.45px;">10:00</div>
<div class="t" style="top:970.50px;font-size:13px;line-height:16px;color:#f0f3f7;left:367.50px;transform:translateX(-50%);letter-spacing:0.45px;">13:30</div>
<div class="t" style="top:970.50px;font-size:13px;line-height:16px;color:#f0f3f7;left:417.50px;transform:translateX(-50%);letter-spacing:0.45px;">14:45</div>
<div class="t" style="top:970.50px;font-size:13px;line-height:16px;color:#f0f3f7;left:467.50px;transform:translateX(-50%);letter-spacing:0.45px;">22:00</div>
<div class="t" style="top:970.50px;font-size:13px;line-height:16px;color:#f0f3f7;left:517.50px;transform:translateX(-50%);letter-spacing:0.45px;">09:15</div>
<div class="t" style="top:970.50px;font-size:13px;line-height:16px;color:#f0f3f7;left:567.50px;transform:translateX(-50%);letter-spacing:0.45px;">10:45</div>
<div class="t" style="top:970.50px;font-size:13px;line-height:16px;color:#f0f3f7;left:667.50px;transform:translateX(-50%);letter-spacing:0.45px;">21:15</div>
<div class="t" style="top:970.50px;font-size:13px;line-height:16px;color:#f0f3f7;left:717.50px;transform:translateX(-50%);letter-spacing:0.45px;">22:30</div>
<div class="t" style="top:970.50px;font-size:13px;line-height:16px;color:#f0f3f7;left:767.50px;transform:translateX(-50%);letter-spacing:0.45px;">09:45</div>
<div class="t" style="top:970.50px;font-size:13px;line-height:16px;color:#f0f3f7;left:817.50px;transform:translateX(-50%);letter-spacing:0.45px;">11:15</div>
<div class="t" style="top:970.50px;font-size:13px;line-height:16px;color:#f0f3f7;left:867.50px;transform:translateX(-50%);letter-spacing:0.45px;">14:30</div>
<div class="t" style="top:970.50px;font-size:13px;line-height:16px;color:#f0f3f7;left:917.50px;transform:translateX(-50%);letter-spacing:0.45px;">21:45</div>
<div class="t" style="top:970.50px;font-size:13px;line-height:16px;color:#f0f3f7;left:967.50px;transform:translateX(-50%);letter-spacing:0.45px;">09:00</div>
<div class="t" style="top:970.50px;font-size:13px;line-height:16px;color:#f0f3f7;left:1017.50px;transform:translateX(-50%);letter-spacing:0.45px;">10:30</div>
<div class="t" style="top:970.50px;font-size:13px;line-height:16px;color:#f0f3f7;left:1067.50px;transform:translateX(-50%);letter-spacing:0.45px;">13:45</div>
<div class="t" style="top:970.50px;font-size:13px;line-height:16px;color:#f0f3f7;left:1117.50px;transform:translateX(-50%);letter-spacing:0.45px;">21:00</div>
<div class="t" style="top:970.50px;font-size:13px;line-height:16px;color:#f0f3f7;left:1167.50px;transform:translateX(-50%);letter-spacing:0.45px;">22:15</div>
<div class="t" style="top:970.50px;font-size:13px;line-height:16px;color:#f0f3f7;left:1217.50px;transform:translateX(-50%);letter-spacing:0.45px;">09:30</div>
<div class="t" style="top:970.50px;font-size:13px;line-height:16px;color:#f0f3f7;left:1267.50px;transform:translateX(-50%);letter-spacing:0.45px;">11:00</div>
<div class="t" style="top:970.50px;font-size:13px;line-height:16px;color:#f0f3f7;left:1317.50px;transform:translateX(-50%);letter-spacing:0.45px;">14:15</div>
<div class="t" style="top:970.50px;font-size:13px;line-height:16px;color:#f0f3f7;left:1367.50px;transform:translateX(-50%);letter-spacing:0.45px;">21:30</div>
<div class="t" style="top:970.50px;font-size:13px;line-height:16px;color:#f0f3f7;left:1417.50px;transform:translateX(-50%);letter-spacing:0.45px;">22:45</div>
<div class="t" style="top:970.50px;font-size:13px;line-height:16px;color:#f0f3f7;left:1467.50px;transform:translateX(-50%);letter-spacing:0.45px;">10:00</div>
<div class="t" style="top:970.50px;font-size:13px;line-height:16px;color:#f0f3f7;left:1517.50px;transform:translateX(-50%);letter-spacing:0.45px;">13:30</div>
<div class="t" style="top:970.50px;font-size:13px;line-height:16px;color:#f0f3f7;left:1567.50px;transform:translateX(-50%);letter-spacing:0.45px;">14:45</div>
<div class="abs" style="left:599px;top:969px;width:79px;height:20px;background:#1f3b5c"></div>
<div class="t" style="left:638px;top:970.5px;transform:translateX(-50%);font-size:13px;line-height:16px;color:#f0f3f7;letter-spacing:0.45px">05-18 14:30</div>
<!-- bottom tabs -->
<div class="abs" style="left:61px;top:989px;width:1611px;height:25px;background:#1d3a60"><div style="position:absolute;left:0;top:0;width:624px;height:25px;background:#12284a"></div><div class="btab" style="left:1.00px;width:46.75px;background:#1d3a60">MACD</div><div class="btab" style="left:49.00px;width:31.75px;background:#1d3a60">KDJ</div><div class="btab" style="left:82.00px;width:27.75px;background:#1d3a60">RSI</div><div class="btab" style="left:111.00px;width:40.00px;background:#1d3a60">BOLL</div><div class="btab" style="left:152.25px;width:29.50px;background:#1d3a60">WR</div><div class="btab" style="left:183.25px;width:35.75px;background:#1d3a60">BIAS</div><div class="btab" style="left:220.25px;width:28.75px;background:#1d3a60">ASI</div><div class="btab" style="left:250.25px;width:25.75px;background:#1d3a60">VR</div><div class="btab" style="left:277.25px;width:41.75px;background:#1d3a60">ARBR</div><div class="btab" style="left:320.25px;width:35.00px;background:#1d3a60">DPO</div><div class="btab" style="left:356.50px;width:36.25px;background:#1d3a60">TRIX</div><div class="btab" style="left:394.00px;width:38.75px;background:#1d3a60">DMA</div><div class="btab" style="left:434.00px;width:29.25px;background:#1d3a60">BBI</div><div class="btab" style="left:464.50px;width:39.50px;background:#1d3a60">MTM</div><div class="btab" style="left:505.25px;width:34.50px;background:#1d3a60">OBV</div><div class="btab" style="left:541.00px;width:48.00px;background:#0a8ad8">FMMA</div><div class="btab" style="left:590.25px;width:33.00px;background:#1d3a60">SAR</div></div>
<!-- logo -->
<div class="t" style="left:10.5px;top:-1.5px;font-size:26px;line-height:30px;color:#4db8f8;letter-spacing:1.4px;-webkit-text-stroke:0.6px #4fb8f6">YF</div>
<svg style="position:absolute;left:10px;top:28.6px" width="40" height="40" viewBox="-20 -20 40 40" fill="none" stroke="#8b9db8" stroke-width="1.5" stroke-linecap="round" stroke-linejoin="round"><path d="M-4,6.2 C-8.5,4.4 -11,0.2 -11,-4 A11,11 0 0 1 11,-4 C11,0.2 8.5,4.4 4,6.2 C5.2,7.6 8.9,8 8.9,10.4 C8.9,11.8 7.8,12.4 6.4,12.4 H-5.4 C-6.8,12.4 -7.9,11.8 -7.9,10.4 C-7.9,8 -5.2,7.6 -4,6.2 Z"/><circle cx="-0.8" cy="-3.6" r="1.5" fill="#8b9db8" stroke="none"/><circle cx="6.4" cy="-3.6" r="1.5" fill="#8b9db8" stroke="none"/></svg><div class="t" style="left:30px;top:67px;transform:translateX(-50%);font-size:12px;line-height:16px;color:#8b9db8">自选</div><svg style="position:absolute;left:10px;top:93px" width="40" height="40" viewBox="-20 -20 40 40" fill="none" stroke="#8b9db8" stroke-width="1.5" stroke-linecap="round" stroke-linejoin="round"><path d="M-13.9,-5.6 L-3.5,-11.7 L3.4,-6.5 L13.6,-13.4" stroke-width="1.5"/><path d="M-13.3,2.8 V13.2 M-4.4,-2.4 V13.2 M4.3,0.5 V13.2 M13.2,-4.7 V13.2" stroke-width="1.7" stroke-linecap="butt"/></svg><div class="t" style="left:30px;top:132.7px;transform:translateX(-50%);font-size:12px;line-height:16px;color:#8b9db8">分时</div><svg style="position:absolute;left:10px;top:157.5px" width="40" height="40" viewBox="-20 -20 40 40" fill="none" stroke="#4ab2f6" stroke-width="1.5" stroke-linecap="round" stroke-linejoin="round"><g stroke-width="1.8"><rect x="-11.4" y="-10.3" width="4.4" height="20.6" /><path d="M-9.2,-14.4 V-10.3 M-9.2,10.3 V14.5 M-0.1,-6.3 V5.8 M9.4,-9.2 V-5.2 M9.4,5.2 V9.3"/><circle cx="-0.1" cy="0" r="2.6" fill="#4ab2f6" stroke="none"/><rect x="7.0" y="-5.2" width="4.7" height="10.4"/></g></svg><div class="t" style="left:30px;top:197.6px;transform:translateX(-50%);font-size:12px;line-height:16px;color:#4ab2f6">K线</div><svg style="position:absolute;left:10px;top:223px" width="40" height="40" viewBox="-20 -20 40 40" fill="none" stroke="#8b9db8" stroke-width="1.5" stroke-linecap="round" stroke-linejoin="round"><path d="M-4.7,-12.9 A13,13 0 1 0 12.1,4.4"/><path d="M-0.6,-13.6 V-0.8 H13.4 A14,12.8 0 0 0 -0.6,-13.6 Z"/></svg><div class="t" style="left:30px;top:262.5px;transform:translateX(-50%);font-size:12px;line-height:16px;color:#8b9db8">报价</div><svg style="position:absolute;left:10px;top:288px" width="40" height="40" viewBox="-20 -20 40 40" fill="none" stroke="#8b9db8" stroke-width="1.5" stroke-linecap="round" stroke-linejoin="round"><circle cx="0" cy="0" r="13.5"/><path d="M-11.5,7.2 C-8,9.2 -3.5,9.2 0,7.4 C3.5,5.6 8,5 12.6,5.1 A13.5,13.5 0 0 1 -11.5,7.2 Z" fill="#8b9db8" stroke="none"/><text x="0" y="3.6" text-anchor="middle" font-family="Liberation Sans, sans-serif" font-size="9.8" font-weight="bold" fill="#8b9db8" stroke="none" textLength="19.5" lengthAdjust="spacingAndGlyphs">NEW</text></svg><div class="t" style="left:30px;top:327.6px;transform:translateX(-50%);font-size:12px;line-height:16px;color:#8b9db8">公告</div><svg style="position:absolute;left:10px;top:352.6px" width="40" height="40" viewBox="-20 -20 40 40" fill="none" stroke="#8b9db8" stroke-width="1.5" stroke-linecap="round" stroke-linejoin="round"><path d="M12.2,5.8 A13.5,13.5 0 1 0 7.9,10.95"/><path d="M6.4,-3.1 H-6.3 L-2.6,-6.8 M-6.3,3.2 H6.4 L2.7,6.8"/></svg><div class="t" style="left:30px;top:392.9px;transform:translateX(-50%);font-size:12px;line-height:16px;color:#8b9db8">交易</div>
<!-- top right -->
<div class="abs" style="left:1607px;top:4px;width:176px;height:24px;background:#152640"></div>
<div class="t" style="left:1617px;top:9px;font-size:12px;line-height:16px;color:#2a9cf2">当前策略：</div>
<div class="t" style="left:1684px;top:9px;font-size:12px;line-height:16px;color:#2a9cf2">鲲鹏一号策略</div>
<svg class="abs" style="left:1765px;top:12px" width="14" height="9" viewBox="0 0 14 9" fill="none" stroke="#2a9cf2" stroke-width="1.3"><path d="M1.5,1.5 L7,7 L12.5,1.5"/></svg>
<svg class="abs" style="left:1808px;top:11px" width="17" height="16" viewBox="0 0 17 16"><circle cx="8.5" cy="4.8" r="3.8" fill="#8b98ab"/><path d="M1,14.5 C1,10 4,8.6 8.5,8.6 C13,8.6 16,10 16,14.5 Z" fill="#8b98ab"/></svg>
<div class="abs" style="left:1829px;top:11px;width:1px;height:15px;background:#2a3c58"></div>
<div class="abs" style="left:1840px;top:16px;width:9px;height:3px;background:#fff"></div>
<svg class="abs" style="left:1869.5px;top:9.5px" width="11" height="11" viewBox="0 0 11 11" fill="none" stroke="#fff" stroke-width="1.6"><path d="M3.6,3.2 V1 H10 V7.2 H7.6"/><rect x="1" y="3.6" width="6.2" height="6.2"/></svg>
<svg class="abs" style="left:1899px;top:9px" width="12" height="12" viewBox="0 0 12 12" fill="none" stroke="#fff" stroke-width="2"><path d="M1.5,1.5 L10.5,10.5 M10.5,1.5 L1.5,10.5"/></svg>
<!-- right panel -->
<div class="t" style="left:1680.5px;top:34px;font-size:16.2px;line-height:20px;color:#fff;letter-spacing:0.1px">焦炭2209&nbsp; J2209</div>
<div class="abs" style="left:1859.5px;top:35px;width:51px;height:18px;background:#1f95e8;border-radius:2px"></div>
<div class="t" style="left:1885px;top:36px;transform:translateX(-50%);font-size:12.5px;line-height:16px;color:#fff">+ 自选</div>
<div class="t q" style="left:1682px;top:61px">--</div>
<div class="t q" style="left:1680px;top:84px">委比</div><div class="t q" style="right:144px;top:84px">--</div><div class="t q" style="left:1802px;top:84px">委差</div><div class="t q" style="right:3px;top:84px">0</div>
<div class="abs" style="left:1673px;top:105px;width:247px;height:1px;background:#0f2746"></div>
<div class="t q" style="left:1680px;top:111px">卖一</div><div class="t q" style="right:134px;top:111px">--</div><div class="t q" style="right:3px;top:111px;color:#1a8fe0">0</div>
<div class="abs" style="left:1673px;top:132px;width:247px;height:1px;background:#0f2746"></div>
<div class="t q" style="left:1680px;top:137px">买一</div><div class="t q" style="right:134px;top:137px">--</div><div class="t q" style="right:3px;top:137px;color:#1a8fe0">0</div>
<div class="t q" style="left:1683px;top:167px">现价</div><div class="t q" style="right:130px;top:167px;color:#f0f3f7">--</div><div class="t q" style="left:1802px;top:167px">今开</div><div class="t q" style="right:11px;top:167px;color:#f0f3f7">--</div><div class="t q" style="left:1683px;top:187px">涨跌</div><div class="t q" style="right:130px;top:187px;color:#f0f3f7">--</div><div class="t q" style="left:1802px;top:187px">最高</div><div class="t q" style="right:11px;top:187px;color:#f0f3f7">--</div><div class="t q" style="left:1683px;top:207px">涨幅</div><div class="t q" style="right:130px;top:207px;color:#f0f3f7">--</div><div class="t q" style="left:1802px;top:207px">最低</div><div class="t q" style="right:11px;top:207px;color:#f0f3f7">--</div><div class="t q" style="left:1683px;top:227px">振幅</div><div class="t q" style="right:130px;top:227px;color:#f0f3f7">--</div><div class="t q" style="left:1802px;top:227px">均价</div><div class="t q" style="right:11px;top:227px;color:#f0f3f7">0.0</div><div class="t q" style="left:1683px;top:247px">结算</div><div class="t q" style="right:130px;top:247px;color:#f0f3f7">0.0</div><div class="t q" style="left:1802px;top:247px">昨结</div><div class="t q" style="right:11px;top:247px;color:#f0f3f7">3346.5</div><div class="t q" style="left:1683px;top:267px">总量</div><div class="t q" style="right:130px;top:267px;color:#f0f3f7">--</div><div class="t q" style="left:1802px;top:267px">金额</div><div class="t q" style="right:11px;top:267px;color:#f0f3f7">0</div><div class="t q" style="left:1683px;top:287px">持仓</div><div class="t q" style="right:130px;top:287px;color:#f0f3f7">3.04万</div><div class="t q" style="left:1802px;top:287px">日增仓</div><div class="t q" style="right:11px;top:287px;color:#f0f3f7">0</div><div class="t q" style="left:1683px;top:307px">涨停</div><div class="t q" style="right:130px;top:307px;color:#f03a55">3848.0</div><div class="t q" style="left:1802px;top:307px">跌停</div><div class="t q" style="right:11px;top:307px;color:#19c37d">2845.0</div><div class="t q" style="left:1683px;top:327px">外盘</div><div class="t q" style="right:130px;top:327px;color:#f0f3f7">--</div><div class="t q" style="left:1802px;top:327px">内盘</div><div class="t q" style="right:11px;top:327px;color:#f0f3f7">--</div>
<!-- status bar -->
<svg class="abs" style="left:58px;top:1016px" width="24" height="24" viewBox="0 0 24 24"><polygon points="12.24,6 18,11.55 14.8,12.9 15,16.6 12.9,17.3 10.4,15 6,18 9,13.6 6.7,11.3 7.85,9.5 10.85,9.7" fill="#8292a5" stroke="#8292a5" stroke-width="0.8" stroke-linejoin="round"/></svg>
<div class="t s" style="left:81px;top:1019.5px;font-size:12px;line-height:16px;color:#f0f3f7">中证指数:</div>
<div class="t s" style="left:142px;top:1019.5px;font-size:12.5px;line-height:16px;color:#19c37d">5603.4<svg width="8" height="10" viewBox="0 0 8 10" style="vertical-align:-1px;margin-left:0.5px"><path d="M2.6,0.5 H5.4 V5 H7.8 L4,9.6 L0.2,5 H2.6 Z" fill="#19c37d"/></svg></div>
<div class="t s" style="left:195px;top:1019.5px;font-size:12.5px;line-height:16px;color:#19c37d">-198.4</div>
<div class="t s" style="left:241px;top:1019.5px;font-size:12.5px;line-height:16px;color:#19c37d">-3.42%</div>
<div class="t s" style="left:291px;top:1019.5px;font-size:12.5px;line-height:16px;color:#f0f3f7">1537亿</div>
<div class="t s" style="left:356px;top:1019.5px;font-size:12px;line-height:16px;color:#f0f3f7">沪深指数:</div>
<div class="t s" style="left:417px;top:1019.5px;font-size:12.5px;line-height:16px;color:#19c37d">3919.8<svg width="8" height="10" viewBox="0 0 8 10" style="vertical-align:-1px;margin-left:0.5px"><path d="M2.6,0.5 H5.4 V5 H7.8 L4,9.6 L0.2,5 H2.6 Z" fill="#19c37d"/></svg></div>
<div class="t s" style="left:471px;top:1019.5px;font-size:12.5px;line-height:16px;color:#19c37d">-81.6</div>
<div class="t s" style="left:510px;top:1019.5px;font-size:12.5px;line-height:16px;color:#19c37d">-2.04%</div>
<div class="t s" style="left:560px;top:1019.5px;font-size:12.5px;line-height:16px;color:#f0f3f7">1277亿</div>
<div class="t s" style="left:622px;top:1019.5px;font-size:12px;line-height:16px;color:#f5e400">软件特征</div>
<div class="t s" style="left:682.5px;top:1019.5px;font-size:12.5px;line-height:16px;color:#f5e400">16:36</div>
<div class="t s" style="left:720px;top:1019.5px;font-size:12px;line-height:16px;color:#f5e400">期货软件用户需知</div>
<svg class="abs" style="left:1700px;top:1019px" width="14" height="16" viewBox="0 0 14 16" fill="none" stroke="#8b9db8" stroke-width="1.3"><path d="M7,1 V2.5 M2.5,11.5 V7.5 C2.5,4.5 4.5,2.8 7,2.8 C9.5,2.8 11.5,4.5 11.5,7.5 V11.5 L13,12.8 H1 Z M5.5,14.2 C6,15.2 8,15.2 8.5,14.2"/></svg>
<div class="t" style="left:1730px;top:1019.5px;font-size:12.6px;line-height:16px;color:#8b9db8">CN 05/24 20:53:39</div>
<div class="abs" style="left:1857px;top:1020px;width:52px;height:15px;background:#1f95e8;border-radius:3px"></div>
<div class="t" style="left:1883px;top:1019.5px;transform:translateX(-50%);font-size:12px;line-height:16px;color:#fff">已连接</div>
</body></html>
